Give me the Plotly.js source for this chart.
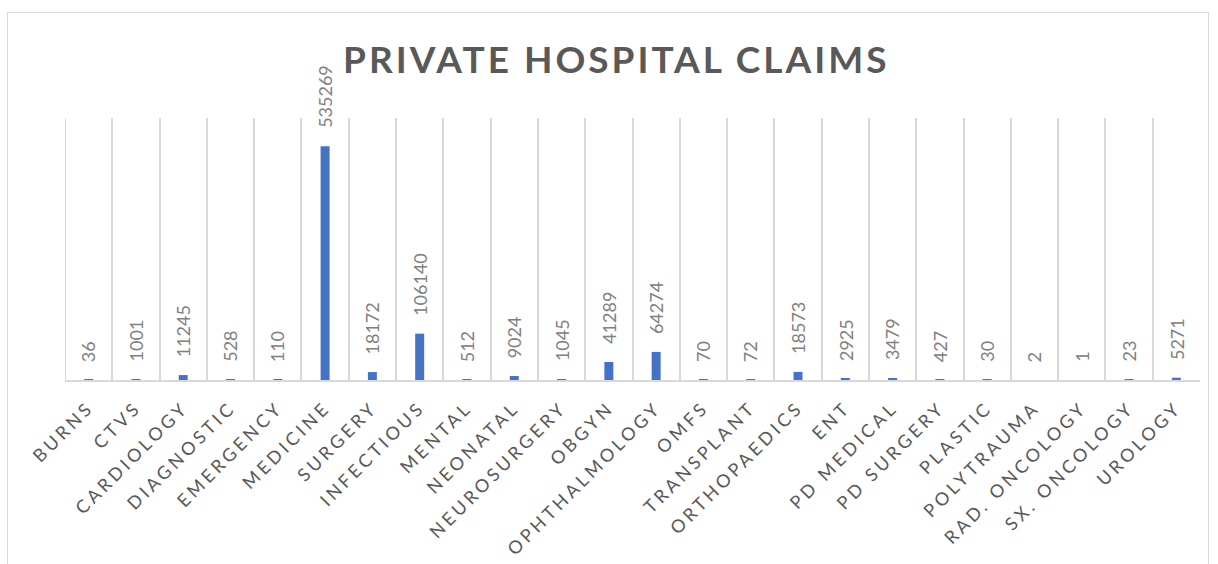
<!DOCTYPE html>
<html>
<head>
<meta charset="utf-8">
<script src="https://cdn.plot.ly/plotly-3.0.1.min.js"></script>
<style>
  html, body { margin: 0; padding: 0; background: #fff; }
  #frame { position: absolute; left: 7px; top: 12px; width: 1202px; height: 560px; border: 1px solid #d9d9d9; box-sizing: border-box; }
  #chart { position: absolute; left: 0; top: 0; width: 1218px; height: 564px; }
  .xtick text { letter-spacing: 3.5px; }
  .gtitle { letter-spacing: 3px; }
</style>
</head>
<body>
<div id="frame"></div>
<div id="chart"></div>
<script>
const categories = ["BURNS","CTVS","CARDIOLOGY","DIAGNOSTIC","EMERGENCY","MEDICINE","SURGERY","INFECTIOUS","MENTAL","NEONATAL","NEUROSURGERY","OBGYN","OPHTHALMOLOGY","OMFS","TRANSPLANT","ORTHOPAEDICS","ENT","PD MEDICAL","PD SURGERY","PLASTIC","POLYTRAUMA","RAD. ONCOLOGY","SX. ONCOLOGY","UROLOGY"];
const claims = [36,1001,11245,528,110,535269,18172,106140,512,9024,1045,41289,64274,70,72,18573,2925,3479,427,30,2,1,23,5271];
const chartTitle = "PRIVATE HOSPITAL CLAIMS";

const trace = {
  type: "bar",
  x: categories,
  y: claims,
  marker: { color: "#4472C4", line: { width: 0 } },
  width: 0.19,
  hoverinfo: "x+y"
};

const annotations = categories.map((c, i) => ({
  x: c, y: claims[i], xref: "x", yref: "y",
  text: String(claims[i]),
  textangle: -90,
  showarrow: false,
  xanchor: "center", yanchor: "bottom",
  yshift: 16,
  font: { family: "Lato, 'Open Sans', sans-serif", size: 18, color: "#808080" }
}));

const layout = {
  width: 1218, height: 564,
  margin: { l: 65, r: 18, t: 118, b: 184 },
  paper_bgcolor: "rgba(0,0,0,0)",
  plot_bgcolor: "rgba(0,0,0,0)",
  title: {
    text: chartTitle,
    x: 0.506, xref: "container", xanchor: "center",
    y: 0.894, yref: "container", yanchor: "middle",
    font: { family: "Lato, 'Open Sans', sans-serif", size: 37, color: "#595959", weight: 700 }
  },
  xaxis: {
    type: "category",
    tickson: "boundaries",
    showgrid: true, gridcolor: "#d9d9d9", gridwidth: 2,
    showline: true, linecolor: "#d9d9d9", linewidth: 2,
    ticks: "", tickangle: -45,
    ticklabelstandoff: 8,
    tickfont: { family: "Lato, 'Open Sans', sans-serif", size: 18, color: "#595959" },
    range: [-0.5, 23.5],
    fixedrange: true
  },
  yaxis: {
    range: [0, 600000],
    visible: false,
    showgrid: false, zeroline: false,
    fixedrange: true
  },
  shapes: [{
    type: "line", xref: "x", yref: "paper",
    x0: -0.5, x1: -0.5, y0: 0, y1: 1,
    line: { color: "#d9d9d9", width: 2 }, layer: "below"
  }],
  annotations: annotations,
  showlegend: false
};

Plotly.newPlot("chart", [trace], layout, { displayModeBar: false });
</script>
</body>
</html>
